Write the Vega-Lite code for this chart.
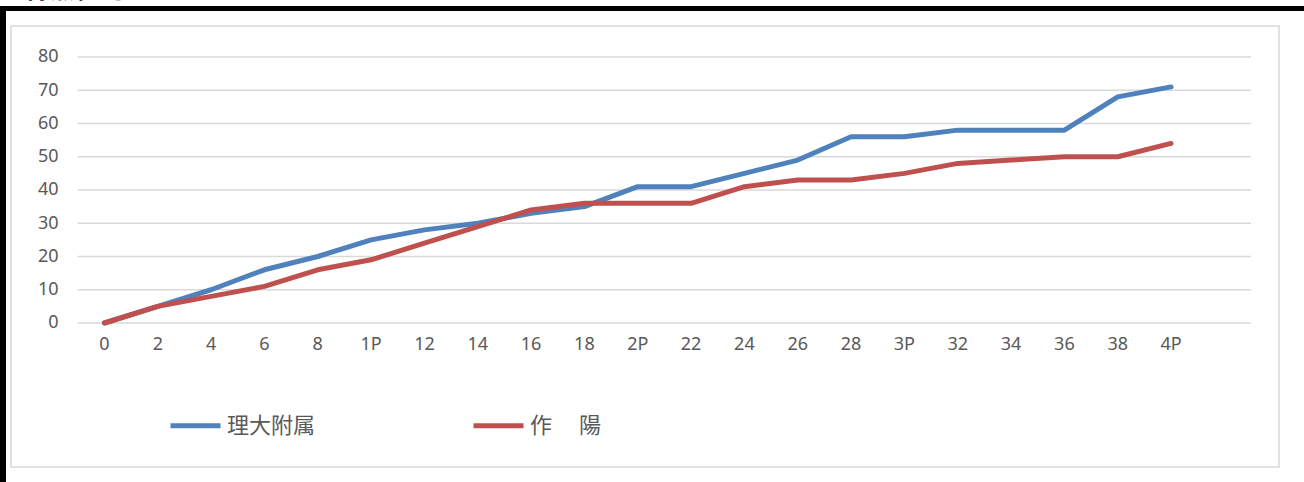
{
  "$schema": "https://vega.github.io/schema/vega-lite/v6.json",
  "padding": {"left": 0, "right": 0, "top": -22, "bottom": 0},
  "background": "white",
  "title": {
    "text": "【得点経過】",
    "anchor": "start",
    "fontSize": 25,
    "fontWeight": "bold",
    "font": "Noto Sans CJK JP",
    "color": "black",
    "offset": 3
  },
  "datasets": {
    "scores": [
      {"t": "0", "team": "理大附属", "score": 0},
      {"t": "2", "team": "理大附属", "score": 5},
      {"t": "4", "team": "理大附属", "score": 10},
      {"t": "6", "team": "理大附属", "score": 16},
      {"t": "8", "team": "理大附属", "score": 20},
      {"t": "1P", "team": "理大附属", "score": 25},
      {"t": "12", "team": "理大附属", "score": 28},
      {"t": "14", "team": "理大附属", "score": 30},
      {"t": "16", "team": "理大附属", "score": 33},
      {"t": "18", "team": "理大附属", "score": 35},
      {"t": "2P", "team": "理大附属", "score": 41},
      {"t": "22", "team": "理大附属", "score": 41},
      {"t": "24", "team": "理大附属", "score": 45},
      {"t": "26", "team": "理大附属", "score": 49},
      {"t": "28", "team": "理大附属", "score": 56},
      {"t": "3P", "team": "理大附属", "score": 56},
      {"t": "32", "team": "理大附属", "score": 58},
      {"t": "34", "team": "理大附属", "score": 58},
      {"t": "36", "team": "理大附属", "score": 58},
      {"t": "38", "team": "理大附属", "score": 68},
      {"t": "4P", "team": "理大附属", "score": 71},
      {"t": "0", "team": "作　 陽", "score": 0},
      {"t": "2", "team": "作　 陽", "score": 5},
      {"t": "4", "team": "作　 陽", "score": 8},
      {"t": "6", "team": "作　 陽", "score": 11},
      {"t": "8", "team": "作　 陽", "score": 16},
      {"t": "1P", "team": "作　 陽", "score": 19},
      {"t": "12", "team": "作　 陽", "score": 24},
      {"t": "14", "team": "作　 陽", "score": 29},
      {"t": "16", "team": "作　 陽", "score": 34},
      {"t": "18", "team": "作　 陽", "score": 36},
      {"t": "2P", "team": "作　 陽", "score": 36},
      {"t": "22", "team": "作　 陽", "score": 36},
      {"t": "24", "team": "作　 陽", "score": 41},
      {"t": "26", "team": "作　 陽", "score": 43},
      {"t": "28", "team": "作　 陽", "score": 43},
      {"t": "3P", "team": "作　 陽", "score": 45},
      {"t": "32", "team": "作　 陽", "score": 48},
      {"t": "34", "team": "作　 陽", "score": 49},
      {"t": "36", "team": "作　 陽", "score": 50},
      {"t": "38", "team": "作　 陽", "score": 50},
      {"t": "4P", "team": "作　 陽", "score": 54}
    ],
    "grid": [
      {"v": 0}, {"v": 10}, {"v": 20}, {"v": 30}, {"v": 40},
      {"v": 50}, {"v": 60}, {"v": 70}, {"v": 80}
    ]
  },
  "hconcat": [
    {
      "width": 6,
      "height": 476,
      "data": {"values": []},
      "mark": "point",
      "view": {"fill": "black", "stroke": null}
    },
    {
      "vconcat": [
        {
          "width": 1298,
          "height": 5,
          "data": {"values": []},
          "mark": "point",
          "view": {"fill": "black", "stroke": null}
        },
        {
          "hconcat": [
            {
              "width": 4,
              "height": 441,
              "data": {"values": []},
              "mark": "point",
              "view": {"fill": "white", "stroke": null}
            },
            {
              "width": 1268,
              "height": 441,
              "view": {"stroke": "#d9d9d9", "strokeWidth": 1.5},
              "layer": [
                {
                  "data": {"name": "grid"},
                  "mark": {"type": "rule", "color": "#d9d9d9", "strokeWidth": 1.5},
                  "encoding": {
                    "x": {"datum": "0", "type": "nominal", "bandPosition": 0},
                    "x2": {"datum": "end", "bandPosition": 1},
                    "y": {
                      "field": "v",
                      "type": "quantitative",
                      "title": null,
                      "scale": {"domain": [-43.31, 89.32], "nice": false, "zero": false},
                      "axis": {
                        "orient": "left",
                        "offset": -68,
                        "values": [0, 10, 20, 30, 40, 50, 60, 70, 80],
                        "domain": false,
                        "ticks": false,
                        "tickSize": 0,
                        "grid": false,
                        "labelPadding": 21,
                        "labelFont": "Noto Sans",
                        "labelFontSize": 18,
                        "labelColor": "#595959",
                        "title": null
                      }
                    }
                  }
                },
                {
                  "data": {"name": "scores"},
                  "mark": {"type": "line", "strokeWidth": 5, "strokeCap": "round", "strokeJoin": "round"},
                  "encoding": {
                    "x": {
                      "field": "t",
                      "type": "nominal",
                      "sort": null,
                      "bandPosition": 0.5,
                      "scale": {
                        "type": "band",
                        "domain": ["0", "2", "4", "6", "8", "1P", "12", "14", "16", "18", "2P", "22", "24", "26", "28", "3P", "32", "34", "36", "38", "4P", "end"],
                        "paddingInner": 0,
                        "paddingOuter": 0.888,
                        "align": 0.705
                      },
                      "axis": {
                        "orient": "bottom",
                        "offset": -144,
                        "bandPosition": 0.5,
                        "domain": false,
                        "ticks": false,
                        "tickSize": 0,
                        "grid": false,
                        "labelAngle": 0,
                        "labelAlign": "center",
                        "labelPadding": 21,
                        "labelFont": "Noto Sans",
                        "labelFontSize": 18,
                        "labelColor": "#595959",
                        "labelExpr": "datum.value == 'end' ? '' : datum.label",
                        "title": null
                      }
                    },
                    "y": {
                      "field": "score",
                      "type": "quantitative",
                      "title": null,
                      "scale": {"domain": [-43.31, 89.32], "nice": false, "zero": false}
                    },
                    "color": {
                      "field": "team",
                      "type": "nominal",
                      "scale": {"domain": ["理大附属", "作　 陽"], "range": ["#4F81BD", "#C0504D"]},
                      "legend": {
                        "orient": "none",
                        "legendX": 168,
                        "legendY": 392,
                        "direction": "horizontal",
                        "title": null,
                        "padding": 0,
                        "symbolType": "stroke",
                        "symbolSize": 2500,
                        "symbolStrokeWidth": 5,
                        "labelFont": "Noto Sans CJK JP",
                        "labelFontSize": 22,
                        "labelColor": "#595959",
                        "labelOffset": 4,
                        "columnPadding": 147
                      }
                    }
                  }
                }
              ]
            }
          ],
          "spacing": 0
        }
      ],
      "spacing": 14
    }
  ],
  "spacing": 0,
  "config": {
    "view": {"stroke": null},
    "font": "Noto Sans CJK JP"
  }
}
